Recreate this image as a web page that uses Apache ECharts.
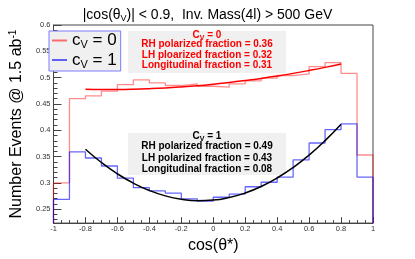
<!DOCTYPE html>
<html><head><meta charset="utf-8">
<script src="https://cdn.jsdelivr.net/npm/echarts@6/dist/echarts.min.js"></script>
<style>html,body{margin:0;padding:0;background:#fff}#c{width:415px;height:259px}</style>
</head><body><div id="c"></div>
<script>
// ---- data ----
const binEdges = [-1,-0.9,-0.8,-0.7,-0.6,-0.5,-0.4,-0.3,-0.2,-0.1,0,0.1,0.2,0.3,0.4,0.5,0.6,0.7,0.8,0.9,1];
const histCv0 = [0.300,0.460,0.4655,0.4745,0.4867,0.4958,0.490,0.485,0.488,0.4836,0.4818,0.488,0.494,0.499,0.504,0.507,0.521,0.5285,0.508,0.353];
const histCv1 = [0.2685,0.3588,0.3473,0.3321,0.3091,0.2909,0.2849,0.2806,0.2697,0.2655,0.2727,0.2788,0.2927,0.3012,0.3109,0.3436,0.3758,0.4013,0.4122,0.3109];
const fitX = [-0.8,-0.7,-0.6,-0.5,-0.4,-0.3,-0.2,-0.1,0,0.1,0.2,0.3,0.4,0.5,0.6,0.7,0.8];
const fitCv0 = [0.4779,0.4775,0.4776,0.4781,0.4791,0.4805,0.4824,0.4847,0.4875,0.4907,0.4944,0.4985,0.5031,0.5081,0.5136,0.5195,0.5259];
const fitCv1 = [0.3639,0.3387,0.3172,0.2995,0.2855,0.2753,0.2689,0.2662,0.2673,0.2722,0.2808,0.2931,0.3093,0.3292,0.3528,0.3803,0.4115];
const xTicks = [-1,-0.8,-0.6,-0.4,-0.2,0,0.2,0.4,0.6,0.8,1];
const yTicks = [0.25,0.3,0.35,0.4,0.45,0.5,0.55,0.6];
const legendNames = ['cV0','cV1'];
const boxCv0 = ['RH polarized fraction = 0.36','LH ploarized fraction = 0.32','Longitudinal fraction = 0.31'];
const boxCv1 = ['RH polarized fraction = 0.49','LH polarized fraction = 0.43','Longitudinal fraction = 0.08'];
const Y_MIN = 0.2236, Y_MAX = 0.6;

const yMinor = [];
for (let v = 23; v <= 60; v++) yMinor.push(v / 100);

function steps(vals) {
  const pts = [[binEdges[0], Y_MIN]];
  vals.forEach((v, i) => { pts.push([binEdges[i], v], [binEdges[i + 1], v]); });
  pts.push([binEdges[binEdges.length - 1], Y_MIN]);
  return pts;
}
const FONT = 'Liberation Sans, Arial, sans-serif';
const chart = echarts.init(document.getElementById('c'), null, {renderer: 'canvas'});

function boxGroup(top, color, header, lines, gaps) {
  const children = [{
    type: 'rect', shape: {x: 128, y: top, width: 158, height: 42},
    style: {fill: '#f0f0f0'}
  }, {
    type: 'text', x: 207, y: top + gaps[0],
    style: {text: '{c|C}{s|V}{c| = ' + header + '}', align: 'center', verticalAlign: 'middle',
      rich: {c: {fontSize: 10, fontWeight: 'bold', fill: color, fontFamily: FONT},
             s: {fontSize: 7, fontWeight: 'bold', fill: color, fontFamily: FONT, padding: [6, 0, 0, 0]}}}
  }];
  lines.forEach((t, i) => children.push({
    type: 'text', x: 207, y: top + gaps[i + 1],
    style: {text: t, align: 'center', verticalAlign: 'middle', fontSize: 10, fontWeight: 'bold',
      fill: color, fontFamily: FONT}
  }));
  return {type: 'group', children};
}

chart.setOption({
  animation: false,
  backgroundColor: '#fff',
  title: {
    text: '{a||cos(θ}{s|V}{a|)| < 0.9,  Inv. Mass(4l) > 500 GeV}',
    left: 'center', top: 2,
    textStyle: {fontWeight: 'normal', rich: {a: {fontSize: 14, fontWeight: 'normal', fontFamily: FONT, color: '#000'},
                       s: {fontSize: 9, fontWeight: 'normal', fontFamily: FONT, color: '#000', padding: [7, 0, 0, 0]}}}
  },
  grid: {left: 41, right: 42, top: 25, bottom: 27, show: true, borderColor: '#444', borderWidth: 1, backgroundColor: 'transparent'},
  legend: {
    orient: 'vertical', left: 49, top: 31, padding: [1, 4, 1, 3], itemGap: 1,
    backgroundColor: '#f0f0f0', borderColor: '#7b7bff', borderWidth: 1,
    itemWidth: 15, itemHeight: 2, icon: 'rect',
    data: legendNames,
    formatter: n => n === 'cV0' ? '{c|c}{s|V}{c| = 0}' : '{c|c}{s|V}{c| = 1}',
    textStyle: {rich: {c: {fontSize: 17, fontFamily: FONT, color: '#000', lineHeight: 18},
                       s: {fontSize: 11, fontFamily: FONT, color: '#000', padding: [9, 0, 0, 0]}}}
  },
  xAxis: {
    type: 'value', min: -1, max: 1, interval: 0.2,
    name: 'cos(θ*)', nameLocation: 'middle', nameGap: 11,
    nameTextStyle: {fontSize: 16, fontFamily: FONT, color: '#000', verticalAlign: 'top'},
    axisLine: {onZero: false, lineStyle: {color: '#444', width: 1}},
    axisTick: {inside: true, length: 6, lineStyle: {color: '#444'}},
    minorTick: {show: true, splitNumber: 4, length: 3, lineStyle: {color: '#444'}},
    splitLine: {show: false},
    axisLabel: {customValues: xTicks, fontSize: 7.5, fontFamily: FONT, color: '#333', margin: 2,
      formatter: v => String(+(+v).toFixed(1))}
  },
  yAxis: [{
    type: 'value', min: Y_MIN, max: Y_MAX, position: 'left',
    name: '{a|Number Events @ 1.5 ab}{s|-1}', nameLocation: 'middle', nameGap: 25,
    nameTextStyle: {rich: {a: {fontSize: 16, fontFamily: FONT, color: '#000'},
                           s: {fontSize: 10, fontFamily: FONT, color: '#000', padding: [0, 0, 8, 0]}}},
    axisLine: {show: true, onZero: false, lineStyle: {color: '#444', width: 1}},
    axisTick: {show: true, inside: true, length: 8, customValues: yTicks, lineStyle: {color: '#444'}},
    splitLine: {show: false},
    axisLabel: {customValues: yTicks, fontSize: 7.5, fontFamily: FONT, color: '#333', margin: 3,
      formatter: v => String(+(+v).toFixed(2))}
  }, {
    type: 'value', min: Y_MIN, max: Y_MAX, position: 'left',
    axisLine: {show: false, onZero: false}, axisLabel: {show: false}, splitLine: {show: false},
    axisTick: {show: true, inside: true, length: 4, customValues: yMinor, lineStyle: {color: '#444'}}
  }],
  series: [{
    name: 'cV0', type: 'line', data: steps(histCv0), showSymbol: false, symbol: 'none',
    lineStyle: {color: 'rgba(255,0,0,0.45)', width: 1.3}, itemStyle: {color: 'rgba(255,0,0,0.55)'}, z: 2
  }, {
    name: 'cV1', type: 'line', data: steps(histCv1), showSymbol: false, symbol: 'none',
    lineStyle: {color: 'rgba(0,0,255,0.6)', width: 1.3}, itemStyle: {color: 'rgba(0,0,255,0.6)'}, z: 2
  }, {
    name: 'fit0', type: 'line', data: fitX.map((x, i) => [x, fitCv0[i]]), smooth: true, symbol: 'none',
    lineStyle: {color: '#ff0000', width: 1.5}, z: 3
  }, {
    name: 'fit1', type: 'line', data: fitX.map((x, i) => [x, fitCv1[i]]), smooth: true, symbol: 'none',
    lineStyle: {color: '#000', width: 1.5}, z: 3
  }],
  graphic: [
    boxGroup(31, '#ff0000', '0', boxCv0, [4, 13.5, 24, 34.5]),
    boxGroup(133, '#000', '1', boxCv1, [3, 13.5, 25, 36])
  ]
});
</script></body></html>
